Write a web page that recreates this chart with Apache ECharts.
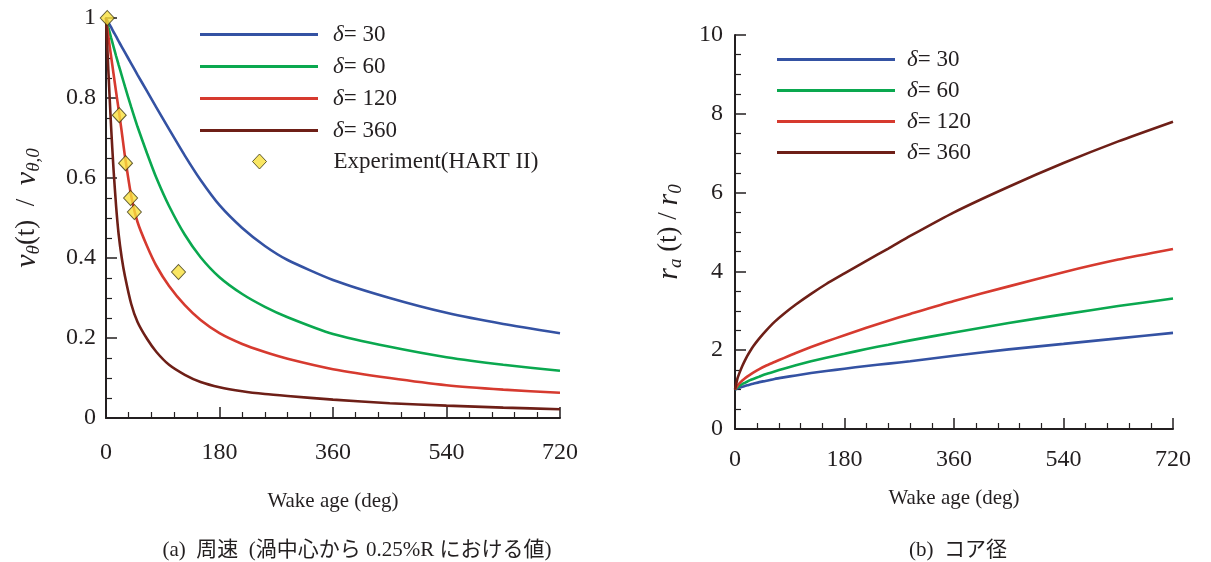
<!DOCTYPE html>
<html>
<head>
<meta charset="utf-8">
<script src="https://cdn.jsdelivr.net/npm/echarts@6/dist/echarts.min.js"></script>
<style>html,body{margin:0;padding:0;background:#fff}#c{width:1211px;height:562px}</style>
</head>
<body>
<div id="c"></div>
<script>
// ---- data ----
const ages = [0,4,8,12,16,20,25,30,40,50,65,80,100,125,150,180,216,252,288,360,450,540,630,720];
const deltas = [30, 60, 120, 360];
// (a) v_theta(t)/v_theta,0
const vel30  = [1,0.988,0.977,0.965,0.954,0.942,0.928,0.914,0.886,0.858,0.817,0.776,0.722,0.656,0.595,0.532,0.475,0.43,0.395,0.345,0.30,0.263,0.235,0.212];
const vel60  = [1,0.975,0.951,0.928,0.905,0.883,0.856,0.829,0.777,0.728,0.662,0.60,0.53,0.458,0.402,0.352,0.31,0.278,0.252,0.21,0.178,0.152,0.133,0.118];
const vel120 = [1,0.95,0.905,0.86,0.815,0.772,0.715,0.655,0.555,0.49,0.43,0.38,0.33,0.282,0.245,0.212,0.185,0.165,0.148,0.122,0.10,0.082,0.071,0.063];
const vel360 = [1,0.86,0.73,0.62,0.53,0.46,0.40,0.355,0.285,0.24,0.198,0.165,0.133,0.108,0.09,0.077,0.067,0.06,0.055,0.046,0.037,0.031,0.026,0.022];
const expAge = [2, 21, 31, 39, 45, 115];
const expVel = [1.0, 0.757, 0.637, 0.55, 0.515, 0.365];
// (b) r_a(t)/r_0
const rad30  = [1,1.03,1.05,1.07,1.09,1.11,1.13,1.15,1.19,1.22,1.27,1.31,1.36,1.42,1.47,1.53,1.60,1.66,1.72,1.86,2.02,2.16,2.30,2.44];
const rad60  = [1,1.06,1.10,1.14,1.17,1.20,1.24,1.27,1.33,1.39,1.46,1.53,1.62,1.72,1.81,1.91,2.03,2.14,2.25,2.45,2.69,2.91,3.12,3.31];
const rad120 = [1,1.10,1.17,1.23,1.28,1.33,1.38,1.43,1.52,1.60,1.70,1.80,1.93,2.08,2.22,2.38,2.57,2.75,2.92,3.25,3.62,3.98,4.30,4.57];
const rad360 = [1,1.28,1.45,1.60,1.73,1.85,1.98,2.10,2.30,2.48,2.72,2.92,3.16,3.43,3.68,3.95,4.27,4.58,4.90,5.50,6.15,6.75,7.30,7.80];

const colors = ['#3452a3', '#0aa84f', '#d63a2f', '#6e1f17'];
const FONT = '"Liberation Serif","DejaVu Serif",serif';
const CJK = '"Liberation Serif","Noto Sans CJK JP",serif';
const ink = '#231f20';

function pairs(xs, ys){ return xs.map((x,i)=>[x, ys[i]]); }
const names = deltas.map(d => 'δ = ' + d);
const expName = 'Experiment(HART II)';
const velSets = [vel30, vel60, vel120, vel360];
const radSets = [rad30, rad60, rad120, rad360];

const titleRich = {
  v:{fontFamily:FONT, fontStyle:'italic', fontSize:30, fill:ink, color:ink, lineHeight:32, verticalAlign:'middle'},
  n:{fontFamily:FONT, fontSize:27, fill:ink, color:ink, lineHeight:32, verticalAlign:'middle'},
  s:{fontFamily:FONT, fontStyle:'italic', fontSize:19, fill:ink, color:ink, lineHeight:17, verticalAlign:'bottom'}
};

function xAxis(grid, margin){
  return {
    type:'value', gridIndex:grid, min:0, max:720, interval:180,
    axisLine:{show:true, onZero:false, lineStyle:{color:ink, width:2}},
    axisTick:{show:true, inside:true, length:11, lineStyle:{color:ink, width:1.5}},
    minorTick:{show:true, splitNumber:5, length:6, lineStyle:{color:ink, width:1.2}},
    splitLine:{show:false},
    axisLabel:{color:ink, fontFamily:FONT, fontSize:24, margin:margin, showMinLabel:true, showMaxLabel:true},
    name:'Wake age (deg)', nameLocation:'middle', nameGap: grid===0?73:59,
    nameTextStyle:{color:ink, fontFamily:FONT, fontSize:21}
  };
}
function yAxis(grid, max, interval, nameText, gap){
  return { type:'value', gridIndex:grid, min:0, max:max, interval:interval,
    axisLine:{show:true, lineStyle:{color:ink, width:2}},
    axisTick:{show:true, inside:true, length:11, lineStyle:{color:ink, width:1.5}},
    minorTick:{show:true, splitNumber:4, length:6, lineStyle:{color:ink, width:1.2}},
    splitLine:{show:false},
    axisLabel:{color:ink, fontFamily:FONT, fontSize:24, margin:grid===0?10:12},
    name:nameText, nameLocation:'middle', nameRotate:90, nameGap:gap,
    nameTextStyle:{rich:titleRich}
  };
}
const legendRich = {d:{fontStyle:'italic', fontFamily:FONT, fontSize:23, color:ink}};
function legendFmt(n){ if(n.indexOf('δ')===0) return '{d|δ}= ' + n.split('= ')[1]; return n; }

const series = [];
velSets.forEach((s,i)=>series.push({
  type:'line', name:names[i], xAxisIndex:0, yAxisIndex:0, data:pairs(ages,s),
  symbol:'none', smooth:0.2, lineStyle:{color:colors[i], width:2.6}, itemStyle:{color:colors[i]}, z:2
}));
series.push({
  type:'scatter', name:expName, xAxisIndex:0, yAxisIndex:0, data:pairs(expAge, expVel),
  symbol:'diamond', symbolSize:[14,15], itemStyle:{color:'#f7e03c', borderColor:'#3a3410', borderWidth:1}, z:5
});
radSets.forEach((s,i)=>series.push({
  type:'line', name:names[i], xAxisIndex:1, yAxisIndex:1, data:pairs(ages,s),
  symbol:'none', smooth:0.2, lineStyle:{color:colors[i], width:2.6}, itemStyle:{color:colors[i]}, z:2
}));

const lineLegend = (left, top, gap, pad) => ({
  data:names.map(n=>({name:n, icon:'rect'})), orient:'vertical', left:left, top:top, padding:0,
  itemWidth:118, itemHeight:3, itemGap:gap, selectedMode:false, formatter:legendFmt,
  textStyle:{color:ink, fontFamily:FONT, fontSize:23, lineHeight:22, padding:[0,0,0,pad], rich:legendRich}
});

const option = {
  animation:false,
  backgroundColor:'#fff',
  grid:[
    {left:106, top:18, width:454, height:400},
    {left:735, top:35, width:438, height:394}
  ],
  xAxis:[ xAxis(0, 23), xAxis(1, 19) ],
  yAxis:[
    yAxis(0, 1, 0.2, '', 64),
    yAxis(1, 10, 2, '{v|r}{s|a}{n| (t) / }{v|r}{s|0}', 50)
  ],
  legend:[
    lineLegend(200, 23, 9, 10),
    lineLegend(777, 48, 8, 7),
    { data:[{name:expName, icon:'diamond'}], orient:'vertical', left:252, top:150, padding:0,
      itemWidth:14, itemHeight:15, selectedMode:false,
      itemStyle:{color:'#f7e03c', borderColor:'#3a3410', borderWidth:1},
      textStyle:{color:ink, fontFamily:FONT, fontSize:23, lineHeight:22, padding:[0,0,0,62]}
    }
  ],
  graphic:[
    {type:'text', x:27, y:208, rotation:Math.PI/2, z:10,
     style:{text:'{v|v}{s|θ}{n|(t)  /  }{v|v}{s|θ,0}', align:'center', verticalAlign:'middle', rich:titleRich}}
  ],
  title:[
    {text:'(a)  周速  (渦中心から 0.25%R における値)', left:352, top:535, textAlign:'center',
     textStyle:{fontFamily:CJK, fontWeight:'normal', fontSize:21, color:ink}},
    {text:'(b)  コア径', left:953, top:535, textAlign:'center',
     textStyle:{fontFamily:CJK, fontWeight:'normal', fontSize:21, color:ink}}
  ],
  series:series
};
const chart = echarts.init(document.getElementById('c'), null, {renderer:'canvas'});
chart.setOption(option);
</script>
</body>
</html>
